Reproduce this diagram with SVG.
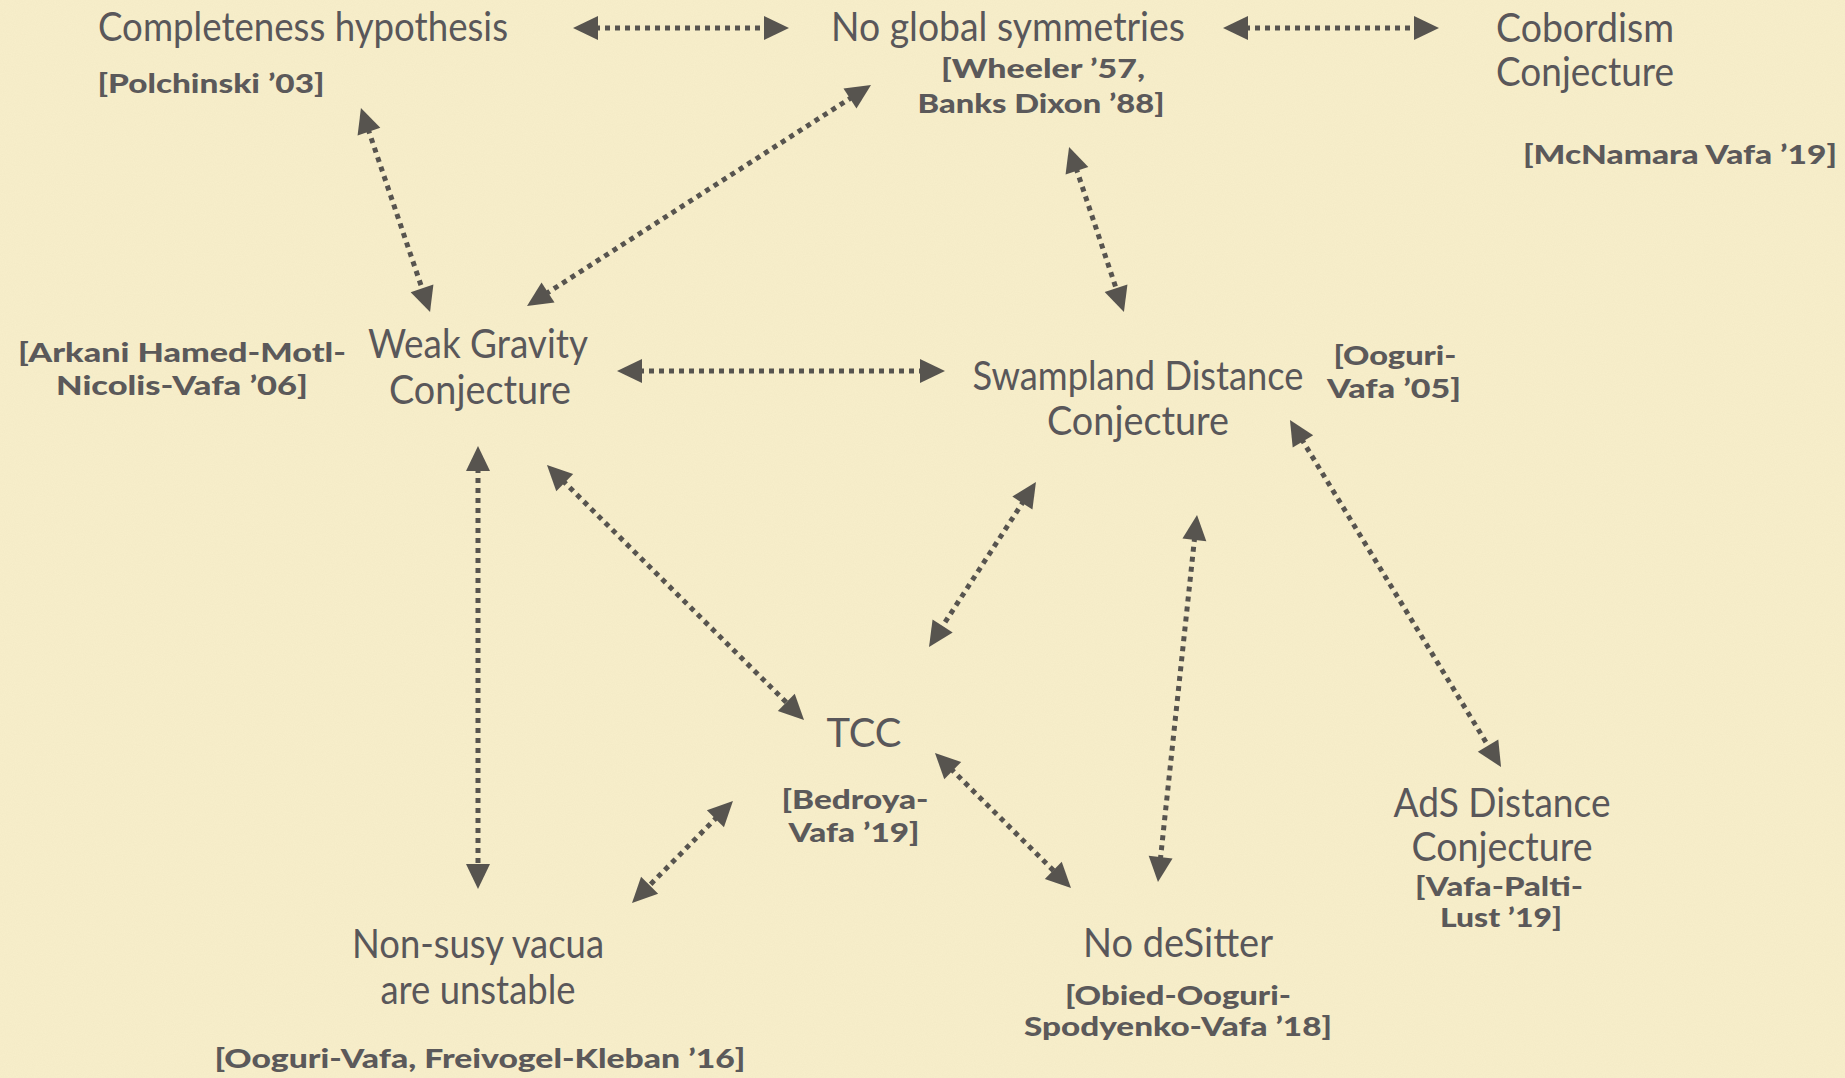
<svg xmlns="http://www.w3.org/2000/svg" width="1845" height="1078" viewBox="0 0 1845 1078">
  <defs>
    <marker id="ah" markerUnits="userSpaceOnUse" markerWidth="26" markerHeight="26" refX="3" refY="12" orient="auto-start-reverse" overflow="visible">
      <path d="M0,0 L25,12 L0,24 Z" fill="#57544f"/>
    </marker>
    <filter id="grain" x="0" y="0" width="100%" height="100%">
      <feTurbulence type="fractalNoise" baseFrequency="0.9" numOctaves="2" seed="3" result="n"/>
      <feColorMatrix type="matrix" values="0 0 0 0 0.55  0 0 0 0 0.48  0 0 0 0 0.3  0 0 0 0.09 0" />
    </filter>
  </defs>
  <style>
    .t { font-family: Lato, "Open Sans", "Liberation Sans", sans-serif; font-size: 40px; fill: #59575a; text-anchor: middle; }
    .r { font-family: Lato, "Open Sans", "Liberation Sans", sans-serif; font-size: 26px; font-weight: 900; fill: #5b595a; text-anchor: middle; }
    .c line { stroke: #57544f; stroke-width: 5; stroke-dasharray: 5 5; fill: none; marker-start: url(#ah); marker-end: url(#ah); }
  </style>
  <rect width="1845" height="1078" fill="#F8EFCB"/>
  <rect width="1845" height="1078" filter="url(#grain)"/>

  <g id="completeness">
    <text class="t" x="303" y="41" textLength="410" lengthAdjust="spacingAndGlyphs">Completeness hypothesis</text>
    <text class="r" x="211" y="93" textLength="227" lengthAdjust="spacingAndGlyphs">[Polchinski ’03]</text>
  </g>
  <g id="no-global-symmetries">
    <text class="t" x="1008" y="41" textLength="354" lengthAdjust="spacingAndGlyphs">No global symmetries</text>
    <text class="r" x="1043" y="78" textLength="204" lengthAdjust="spacingAndGlyphs">[Wheeler ’57,</text>
    <text class="r" x="1041" y="113" textLength="247" lengthAdjust="spacingAndGlyphs">Banks Dixon ’88]</text>
  </g>
  <g id="cobordism">
    <text class="t" x="1585" y="42" textLength="178" lengthAdjust="spacingAndGlyphs">Cobordism</text>
    <text class="t" x="1585" y="86" textLength="178" lengthAdjust="spacingAndGlyphs">Conjecture</text>
    <text class="r" x="1680" y="164" textLength="314" lengthAdjust="spacingAndGlyphs">[McNamara Vafa ’19]</text>
  </g>
  <g id="weak-gravity">
    <text class="r" x="182" y="362" textLength="328" lengthAdjust="spacingAndGlyphs">[Arkani Hamed-Motl-</text>
    <text class="r" x="182" y="395" textLength="252" lengthAdjust="spacingAndGlyphs">Nicolis-Vafa  ’06]</text>
    <text class="t" x="478" y="358" textLength="220" lengthAdjust="spacingAndGlyphs">Weak Gravity</text>
    <text class="t" x="480" y="404" textLength="182" lengthAdjust="spacingAndGlyphs">Conjecture</text>
  </g>
  <g id="swampland-distance">
    <text class="t" x="1138" y="390" textLength="331" lengthAdjust="spacingAndGlyphs">Swampland Distance</text>
    <text class="t" x="1138" y="435" textLength="182" lengthAdjust="spacingAndGlyphs">Conjecture</text>
    <text class="r" x="1395" y="365" textLength="123" lengthAdjust="spacingAndGlyphs">[Ooguri-</text>
    <text class="r" x="1394" y="398" textLength="134" lengthAdjust="spacingAndGlyphs">Vafa ’05]</text>
  </g>
  <g id="tcc">
    <text class="t" x="864" y="747" textLength="75" lengthAdjust="spacingAndGlyphs">TCC</text>
    <text class="r" x="855" y="809" textLength="147" lengthAdjust="spacingAndGlyphs">[Bedroya-</text>
    <text class="r" x="854" y="842" textLength="131" lengthAdjust="spacingAndGlyphs">Vafa ’19]</text>
  </g>
  <g id="ads-distance">
    <text class="t" x="1502" y="817" textLength="217" lengthAdjust="spacingAndGlyphs">AdS Distance</text>
    <text class="t" x="1502" y="861" textLength="181" lengthAdjust="spacingAndGlyphs">Conjecture</text>
    <text class="r" x="1499" y="896" textLength="168" lengthAdjust="spacingAndGlyphs">[Vafa-Palti-</text>
    <text class="r" x="1501" y="927" textLength="122" lengthAdjust="spacingAndGlyphs">Lust ’19]</text>
  </g>
  <g id="non-susy">
    <text class="t" x="478" y="958" textLength="252" lengthAdjust="spacingAndGlyphs">Non-susy vacua</text>
    <text class="t" x="478" y="1004" textLength="195" lengthAdjust="spacingAndGlyphs">are unstable</text>
    <text class="r" x="480" y="1068" textLength="531" lengthAdjust="spacingAndGlyphs">[Ooguri-Vafa, Freivogel-Kleban ’16]</text>
  </g>
  <g id="no-desitter">
    <text class="t" x="1178" y="957" textLength="190" lengthAdjust="spacingAndGlyphs">No deSitter</text>
    <text class="r" x="1178" y="1005" textLength="226" lengthAdjust="spacingAndGlyphs">[Obied-Ooguri-</text>
    <text class="r" x="1178" y="1036" textLength="308" lengthAdjust="spacingAndGlyphs">Spodyenko-Vafa ’18]</text>
  </g>

  <g id="connectors" class="c">
    <line x1="595" y1="28" x2="767" y2="28"/>
    <line x1="1245" y1="28" x2="1417" y2="28"/>
    <line x1="368" y1="128.8" x2="423" y2="291.2"/>
    <line x1="545.5" y1="294.1" x2="852.5" y2="96.9"/>
    <line x1="1076" y1="167.9" x2="1117" y2="291.1"/>
    <line x1="639" y1="371" x2="923" y2="371"/>
    <line x1="478" y1="468" x2="478" y2="867"/>
    <line x1="562.6" y1="480.5" x2="788.4" y2="704.5"/>
    <line x1="1024" y1="500.5" x2="941" y2="628.5"/>
    <line x1="1194.7" y1="536.9" x2="1160.3" y2="860.1"/>
    <line x1="1301.4" y1="438.8" x2="1489.6" y2="748.2"/>
    <line x1="950.6" y1="768.5" x2="1055.4" y2="872.5"/>
    <line x1="717.5" y1="816.6" x2="647.5" y2="887.4"/>
  </g>
</svg>
